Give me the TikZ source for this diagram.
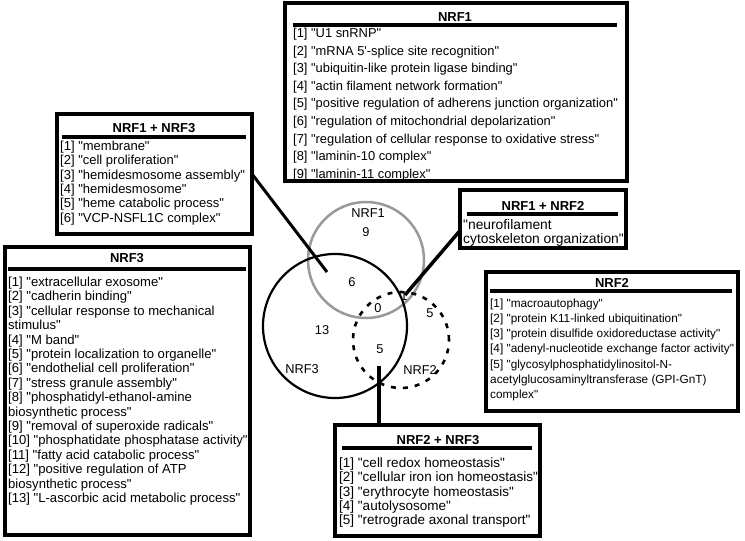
\documentclass[tikz,border=0pt]{standalone}
\usepackage{fontspec}
\usetikzlibrary{calc}
\setmainfont{Liberation Sans}[Ligatures=TeXOff]
\begin{document}
\begin{tikzpicture}[x=1pt,y=-1pt,
  box/.style={draw, line width=4pt, fill=white, inner sep=0pt, outer sep=0pt},
  ttl/.style={font=\fontsize{13}{14}\selectfont\bfseries, anchor=base, inner sep=0pt},
  itm/.style={font=\fontsize{13}{14}\selectfont, anchor=base west, inner sep=0pt},
  ul/.style={line width=4pt},
  lbl/.style={font=\fontsize{12.8}{14}\selectfont, inner sep=0pt},
  conn/.style={line width=3.5pt}]
\useasboundingbox (0,0) rectangle (745,541);
% Venn circles
\draw[line width=2.5pt, gray!80] (366,260) circle[radius=58pt];
\draw[line width=2.2pt] (335,326) circle[radius=72pt];
\draw[line width=2.6pt, dash pattern=on 5pt off 7pt] (401,340) circle[radius=48pt];
\node[lbl] (lnrf1) at (368,213) {NRF1};
\node[lbl] (l9) at (366,232) {9};
\node[lbl] (l6) at (352,282) {6};
\node[lbl] (l0) at (378,308) {0};
\node[lbl] (l1) at (404,296) {1};
\node[lbl] (l13) at (322,330) {13};
\node[lbl] (l5a) at (380,349) {5};
\node[lbl] (l5b) at (430,313) {5};
\node[lbl] (lnrf3) at (302,369) {NRF3};
\node[lbl] (lnrf2) at (420,370) {NRF2};
% boxes
\node[box, minimum width=342pt, minimum height=178pt] (nrf1) at (456,92) {};
\node[box, minimum width=195pt, minimum height=120pt] (nrf13) at (154.5,174) {};
\node[box, minimum width=245pt, minimum height=288pt] (nrf3) at (127.5,391) {};
\node[box, minimum width=166pt, minimum height=58pt] (nrf12) at (543,219) {};
\node[box, minimum width=252pt, minimum height=139pt] (nrf2) at (612,341.5) {};
\node[box, minimum width=205pt, minimum height=111pt] (nrf23) at (437.5,480.5) {};
% NRF1
\node[ttl] (t1) at (455,21.5) {NRF1};
\draw[ul] (293,25) -- (617,25);
\foreach \t [count=\i from 0] in {{[1] "U1 snRNP"},{[2] "mRNA 5'-splice site recognition"},{[3] "ubiquitin-like protein ligase binding"},{[4] "actin filament network formation"},{[5] "positive regulation of adherens junction organization"},{[6] "regulation of mitochondrial depolarization"},{[7] "regulation of cellular response to oxidative stress"},{[8] "laminin-10 complex"},{[9] "laminin-11 complex"}}
  \node[itm, font=\fontsize{12.9}{14}\selectfont] (a\i) at (293,37.5+17.6*\i) {\t};
% NRF1 + NRF3
\node[ttl] (t13) at (154,132.5) {NRF1 + NRF3};
\draw[ul] (62,137) -- (246,137);
\foreach \t [count=\i from 0] in {{[1] "membrane"},{[2] "cell proliferation"},{[3] "hemidesmosome assembly"},{[4] "hemidesmosome"},{[5] "heme catabolic process"},{[6] "VCP-NSFL1C complex"}}
  \node[itm] (b\i) at (60,150.5+14.3*\i) {\t};
% NRF3
\node[ttl] (t3) at (127,262.5) {NRF3};
\draw[ul] (8,269) -- (246,269);
\foreach \t [count=\i from 0] in {{[1] "extracellular exosome"},{[2] "cadherin binding"},{[3] "cellular response to mechanical},{stimulus"},{[4] "M band"},{[5] "protein localization to organelle"},{[6] "endothelial cell proliferation"},{[7] "stress granule assembly"},{[8] "phosphatidyl-ethanol-amine},{biosynthetic process"},{[9] "removal of superoxide radicals"},{[10] "phosphatidate phosphatase activity"},{[11] "fatty acid catabolic process"},{[12] "positive regulation of ATP},{biosynthetic process"},{[13] "L-ascorbic acid metabolic process"}}
  \node[itm, font=\fontsize{13.1}{14}\selectfont] (c\i) at (8,286.5+14.4*\i) {\t};
% NRF1 + NRF2
\node[ttl] (t12) at (543,210.5) {NRF1 + NRF2};
\draw[ul] (467,214) -- (618,214);
\node[itm, font=\fontsize{13.8}{14}\selectfont] (d0) at (463,229.5) {"neurofilament};
\node[itm, font=\fontsize{13.8}{14}\selectfont] (d1) at (463,243) {cytoskeleton organization"};
% NRF2
\node[ttl] (t2) at (612,287.5) {NRF2};
\draw[ul] (490,291) -- (732,291);
\foreach \t [count=\i from 0] in {{[1] "macroautophagy"},{[2] "protein K11-linked ubiquitination"},{[3] "protein disulfide oxidoreductase activity"},{[4] "adenyl-nucleotide exchange factor activity"},{[5] "glycosylphosphatidylinositol-N-},{acetylglucosaminyltransferase (GPI-GnT)},{complex"}}
  \node[itm, font=\fontsize{11.8}{14}\selectfont] (e\i) at (490,307+15.3*\i) {\t};
% NRF2 + NRF3
\node[ttl] (t23) at (438,444.5) {NRF2 + NRF3};
\draw[ul] (342,448) -- (532,448);
\foreach \t [count=\i from 0] in {{[1] "cell redox homeostasis"},{[2] "cellular iron ion homeostasis"},{[3] "erythrocyte homeostasis"},{[4] "autolysosome"},{[5] "retrograde axonal transport"}}
  \node[itm, font=\fontsize{13.5}{14}\selectfont] (f\i) at (339,467.5+14.3*\i) {\t};
% connectors
\coordinate (e13) at (327,272);
\coordinate (e12) at (405,295);
\coordinate (e23) at (379,366);
\draw[conn, line width=3pt] (nrf13.east) -- (e13);
\draw[conn] ($(nrf12.south west)!0.3!(nrf12.north west)$) -- (e12);
\draw[conn] (e23) -- (e23 |- nrf23.north);
\end{tikzpicture}
\end{document}
